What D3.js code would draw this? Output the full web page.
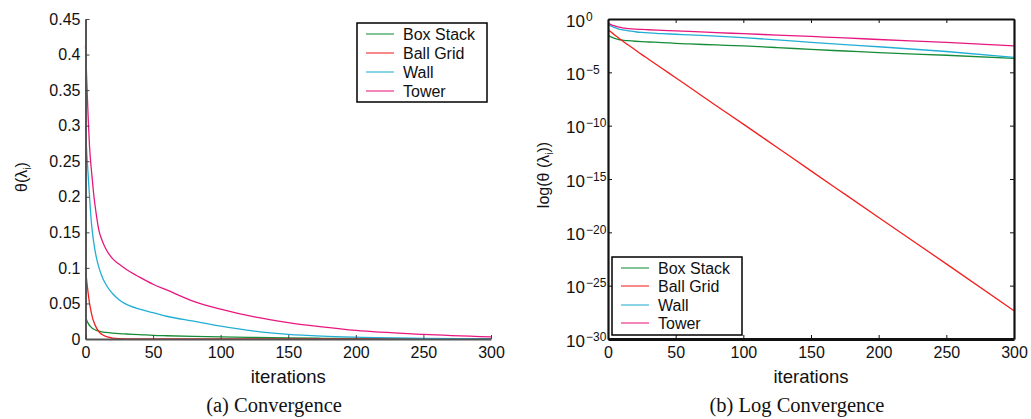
<!DOCTYPE html>
<html>
<head>
<meta charset="utf-8">
<script src="https://cdn.jsdelivr.net/npm/d3@7"></script>
<style>
  body { margin: 0; background: #fff; }
  svg { display: block; }
  text { font-family: "Liberation Sans", Arial, sans-serif; fill: #111; }
  .caption { font-family: "Liberation Serif", "Times New Roman", serif; font-size: 20.5px; }
</style>
</head>
<body>
<div id="chart"></div>
<script>
// Data
const iterations = [0, 1, 2, 3, 4, 5, 6, 8, 10, 12, 15, 20, 25, 30, 40, 50, 60, 80, 100, 125, 150, 175, 200, 250, 300]
const boxStack = [0.031, 0.026, 0.022, 0.019, 0.017, 0.015, 0.014, 0.012, 0.011, 0.010, 0.0092, 0.0082, 0.0075, 0.007, 0.0062, 0.0052, 0.0046, 0.0037, 0.003, 0.0021, 0.0014, 0.001, 0.0007, 0.0004, 0.0002]
const ballGrid = [0.1, 0.08, 0.064, 0.05, 0.04, 0.031, 0.025, 0.016, 0.01, 0.0066, 0.0036, 1.3e-3, 4.6e-4, 1.7e-4, 2.3e-5, 3.1e-6, 4.2e-7, 7.5e-9, 1.4e-10, 9e-13, 5.8e-15, 3.8e-17, 2.5e-19, 1.1e-23, 4.5e-28]
const wall = [0.297, 0.26, 0.23, 0.2, 0.172, 0.152, 0.137, 0.115, 0.1, 0.089, 0.077, 0.064, 0.055, 0.049, 0.042, 0.037, 0.032, 0.025, 0.018, 0.011, 0.0065, 0.004, 0.0025, 0.0009, 0.00025]
const tower = [0.412, 0.36, 0.31, 0.27, 0.245, 0.225, 0.205, 0.175, 0.152, 0.14, 0.127, 0.113, 0.105, 0.098, 0.087, 0.077, 0.069, 0.053, 0.042, 0.031, 0.023, 0.017, 0.012, 0.0065, 0.003]

const seriesNames = ['Box Stack', 'Ball Grid', 'Wall', 'Tower']
const seriesColors = ['#178c38', '#f41f1f', '#22aed4', '#e8177f']

const xTicks = [0, 50, 100, 150, 200, 250, 300]
const linearTicks = [0, 0.05, 0.1, 0.15, 0.2, 0.25, 0.3, 0.35, 0.4, 0.45]
const logExponents = [0, -5, -10, -15, -20, -25, -30]

const series = [boxStack, ballGrid, wall, tower].map((vals, i) => ({
  name: seriesNames[i],
  color: seriesColors[i],
  values: vals.map((v, j) => ({ x: iterations[j], y: v }))
}))

// Dimensions
const width = 1031, height = 419
const plotTop = 19, plotBottom = 339

const svg = d3.select('#chart').append('svg')
  .attr('width', width)
  .attr('height', height)

function drawLines(g, x, y) {
  const line = d3.line()
    .x(d => x(d.x))
    .y(d => y(d.y))
    .curve(d3.curveMonotoneX)
  g.append('g')
    .selectAll('path')
    .data(series)
    .join('path')
    .attr('fill', 'none')
    .attr('stroke', d => d.color)
    .attr('stroke-width', 1.3)
    .attr('d', d => line(d.values))
}

function drawLegend(g, left, topY, w, h, rowY) {
  g.append('rect')
    .attr('x', left).attr('y', topY).attr('width', w).attr('height', h)
    .attr('fill', '#fff').attr('stroke', '#000').attr('stroke-width', 1.5)
  const rows = g.selectAll('.leg')
    .data(series)
    .join('g')
    .attr('class', 'leg')
    .attr('transform', (d, i) => `translate(${left}, ${rowY[i]})`)
  rows.append('line')
    .attr('x1', 9).attr('x2', 37)
    .attr('stroke', d => d.color).attr('stroke-opacity', 0.7).attr('stroke-width', 1.5)
  rows.append('text')
    .attr('x', 46).attr('dy', '0.36em')
    .style('font-size', '16px')
    .text(d => d.name)
}

function yLabel(g, cx, cy, parts) {
  const t = g.append('text')
    .attr('transform', `translate(${cx},${cy}) rotate(-90)`)
    .attr('text-anchor', 'middle')
    .style('font-size', '16px')
  t.append('tspan').text(parts[0])
  t.append('tspan').attr('dy', 4).style('font-size', '10px').text('i')
  t.append('tspan').attr('dy', -4).text(parts[1])
}

// (a) Convergence
{
  const x = d3.scaleLinear().domain([0, 300]).range([85.5, 491])
  const y = d3.scaleLinear().domain([0, 0.45]).range([plotBottom, plotTop])
  const g = svg.append('g')

  drawLines(g, x, y)

  const yAxis = g.append('g')
    .attr('transform', `translate(${x(0)},0)`)
    .call(d3.axisLeft(y).tickValues(linearTicks).tickFormat(d3.format('~g')).tickSize(-4).tickPadding(5).tickSizeOuter(0))
  const xAxis = g.append('g')
    .attr('transform', `translate(0,${y(0)})`)
    .call(d3.axisBottom(x).tickValues(xTicks).tickSize(-4).tickPadding(8).tickSizeOuter(0))
  ;[xAxis, yAxis].forEach(a => {
    a.select('.domain').attr('stroke', '#555').attr('stroke-width', 2)
    a.selectAll('.tick line').attr('stroke', '#444')
    a.selectAll('text').style('font-size', '16px').attr('fill', '#111')
  })

  yLabel(g, 27, 177, ['θ(λ', ')'])

  g.append('text')
    .attr('x', (x(0) + x(300)) / 2).attr('y', 383)
    .attr('text-anchor', 'middle').style('font-size', '18.5px')
    .text('iterations')

  g.append('text').attr('class', 'caption')
    .attr('x', 274).attr('y', 412)
    .attr('text-anchor', 'middle')
    .text('(a) Convergence')

  drawLegend(g, 357, 23, 130, 79, [34, 53, 72, 91])
}

// (b) Log Convergence
{
  const x = d3.scaleLinear().domain([0, 300]).range([608, 1014])
  const y = d3.scaleLog().domain([1e-30, 1]).range([plotBottom, plotTop])
  const g = svg.append('g')

  g.append('defs').append('clipPath').attr('id', 'clipb')
    .append('rect').attr('x', x(0)).attr('y', plotTop).attr('width', x(300) - x(0)).attr('height', plotBottom - plotTop)
  drawLines(g.append('g').attr('clip-path', 'url(#clipb)'), x, y)

  const logTicks = logExponents.map(e => Math.pow(10, e))

  const yAxis = g.append('g')
    .attr('transform', `translate(${x(0)},0)`)
    .call(d3.axisLeft(y).tickValues(logTicks).tickFormat('').tickSize(-4).tickSizeOuter(0))
  yAxis.selectAll('.tick')
    .append('text')
    .attr('x', -23).attr('y', 7)
    .attr('text-anchor', 'end')
    .style('font-size', '17px')
    .text('10')
  yAxis.selectAll('.tick')
    .append('text')
    .attr('x', -22).attr('y', 1)
    .attr('text-anchor', 'start')
    .style('font-size', '12px')
    .text((d, i) => String(logExponents[i]).replace('-', '−'))

  const yAxisR = g.append('g')
    .attr('transform', `translate(${x(300)},0)`)
    .call(d3.axisRight(y).tickValues(logTicks).tickFormat('').tickSize(-4).tickSizeOuter(0))
  const xAxis = g.append('g')
    .attr('transform', `translate(0,${plotBottom})`)
    .call(d3.axisBottom(x).tickValues(xTicks).tickSize(-4).tickPadding(8).tickSizeOuter(0))
  const xAxisT = g.append('g')
    .attr('transform', `translate(0,${plotTop})`)
    .call(d3.axisTop(x).tickValues(xTicks).tickFormat('').tickSize(-4).tickSizeOuter(0))
  ;[xAxis, xAxisT, yAxis, yAxisR].forEach(a => {
    a.select('.domain').attr('stroke', '#111').attr('stroke-width', 2.2)
    a.selectAll('.tick line').attr('stroke', '#111')
    a.selectAll('text').attr('fill', '#111')
  })
  xAxis.selectAll('text').style('font-size', '16px')
  xAxis.select('.domain').attr('stroke-width', 3)

  yLabel(g, 549, 175, ['log(θ (λ', '))'])

  g.append('text')
    .attr('x', (x(0) + x(300)) / 2).attr('y', 383)
    .attr('text-anchor', 'middle').style('font-size', '18.5px')
    .text('iterations')

  g.append('text').attr('class', 'caption')
    .attr('x', 797).attr('y', 412)
    .attr('text-anchor', 'middle')
    .text('(b) Log Convergence')

  drawLegend(g, 612, 257, 130, 78, [268, 286, 305, 323])
}
</script>
</body>
</html>
